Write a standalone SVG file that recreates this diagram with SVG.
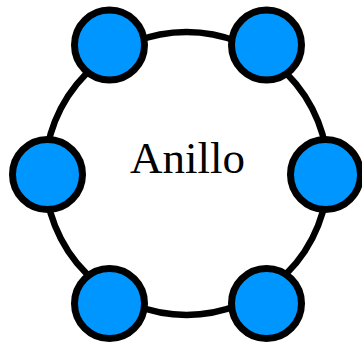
<svg xmlns="http://www.w3.org/2000/svg" width="362" height="342" viewBox="0 0 362 342">
<style>
.node{fill:#0096ff;stroke:#000;stroke-width:7}
.ring{fill:none;stroke:#000;stroke-width:6.5}
.lbl{font-family:"Liberation Serif","Times New Roman",serif;font-size:45px;fill:#000;text-anchor:middle}
</style>
<rect width="362" height="342" fill="#fff"/>
<g id="connectors">
<circle class="ring" cx="186.5" cy="173.5" r="141.5"/>
</g>
<text class="lbl" x="187.5" y="173">Anillo</text>
<g id="n1"><circle class="node" cx="109.5" cy="45" r="35"/></g>
<g id="n2"><circle class="node" cx="266.5" cy="45" r="35"/></g>
<g id="n3"><circle class="node" cx="325.5" cy="174.5" r="35"/></g>
<g id="n4"><circle class="node" cx="266.5" cy="303.5" r="35"/></g>
<g id="n5"><circle class="node" cx="109.5" cy="303.5" r="35"/></g>
<g id="n6"><circle class="node" cx="47.5" cy="174.5" r="35"/></g>
</svg>
